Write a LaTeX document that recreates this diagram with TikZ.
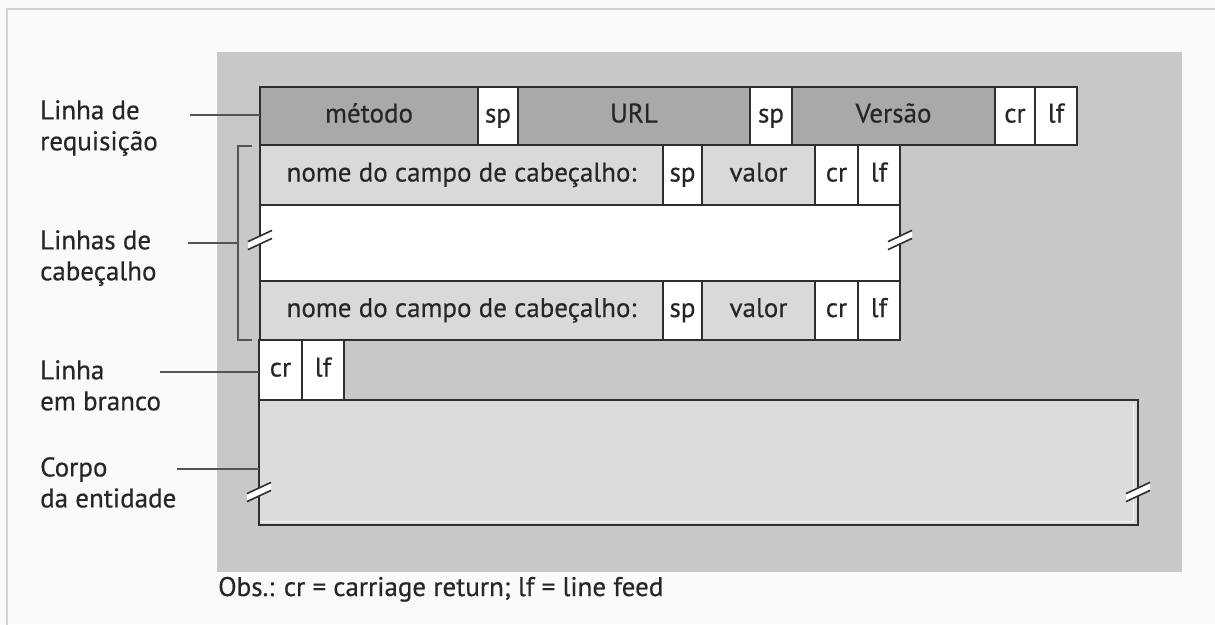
\documentclass[tikz,border=0pt]{standalone}
\usepackage{fontspec}
\setmainfont{PT Sans}[FakeBold=0.4]
\usetikzlibrary{calc}

\definecolor{pagebg}{HTML}{FAFAFA}
\definecolor{framecol}{HTML}{D2D2D2}
\definecolor{panel}{HTML}{C8C8CA}
\definecolor{fielddark}{HTML}{A9A9AB}
\definecolor{fieldlight}{HTML}{D9D9DB}
\definecolor{bodyfill}{HTML}{DCDCDE}
\definecolor{edge}{HTML}{2E2E2E}
\definecolor{ink}{HTML}{262626}
\definecolor{leadcol}{HTML}{555555}

% break symbol: two slanted strokes cutting a vertical edge
\newcommand{\brkmark}[2]{%
  \begin{scope}[shift={(#1,#2)}]
    \fill[white] (-12,1.6) -- (12,-9.6) -- (12,-1.6) -- (-12,9.6) -- cycle;
    \draw[brkline] (-12,1.6) -- (12,-9.6);
    \draw[brkline] (-12,9.6) -- (12,-1.6);
  \end{scope}}

\begin{document}
\begin{tikzpicture}[x=1pt,y=-1pt,
  every node/.style={font=\fontsize{27}{31}\selectfont, text=ink},
  cell/.style={anchor=north west, inner sep=0pt, outer sep=0pt,
               text height=19pt, text depth=6pt},
  darkcell/.style={cell, fill=fielddark},
  lightcell/.style={cell, fill=fieldlight},
  whitecell/.style={cell, fill=white},
  edgeline/.style={draw=edge, line width=1.7pt},
  leaderline/.style={draw=leadcol, line width=1.5pt},
  bracketline/.style={draw=leadcol, line width=1.8pt},
  brkline/.style={draw=edge, line width=1.6pt},
  lbl/.style={anchor=north west, inner sep=0pt, align=left}
]
\clip (0,0) rectangle (1215,624);
\fill[pagebg] (0,0) rectangle (1215,624);
\draw[framecol, line width=1.3pt] (7,640) -- (7,9) -- (1230,9);

% grey panel
\fill[panel] (217,52) rectangle (1182,572);

% request line
\node[darkcell, minimum width=218pt, minimum height=58pt] (metodo) at (260,87) {método};
\node[whitecell, minimum width=40pt,  minimum height=58pt] (sp1) at (478,87) {sp};
\node[darkcell, minimum width=232pt, minimum height=58pt] (url) at (518,87) {URL};
\node[whitecell, minimum width=42pt,  minimum height=58pt] (sp2) at (750,87) {sp};
\node[darkcell, minimum width=203pt, minimum height=58pt] (versao) at (792,87) {Versão};
\node[whitecell, minimum width=40pt,  minimum height=58pt] (cr1) at (995,87) {cr};
\node[whitecell, minimum width=42pt,  minimum height=58pt] (lf1) at (1035,87) {lf};

% first header line
\node[lightcell, minimum width=403pt, minimum height=60pt] (nomeA) at (260,145) {nome do campo de cabeçalho:};
\node[whitecell, minimum width=39pt,  minimum height=60pt] (spA) at (663,145) {sp};
\node[lightcell, minimum width=113pt, minimum height=60pt] (valorA) at (702,145) {valor};
\node[whitecell, minimum width=43pt,  minimum height=60pt] (crA) at (815,145) {cr};
\node[whitecell, minimum width=42pt,  minimum height=60pt] (lfA) at (858,145) {lf};

% elided header lines
\node[whitecell, minimum width=640pt, minimum height=76pt] (gap) at (260,205) {};

% last header line
\node[lightcell, minimum width=403pt, minimum height=59pt] (nomeB) at (260,281) {nome do campo de cabeçalho:};
\node[whitecell, minimum width=39pt,  minimum height=59pt] (spB) at (663,281) {sp};
\node[lightcell, minimum width=113pt, minimum height=59pt] (valorB) at (702,281) {valor};
\node[whitecell, minimum width=43pt,  minimum height=59pt] (crB) at (815,281) {cr};
\node[whitecell, minimum width=42pt,  minimum height=59pt] (lfB) at (858,281) {lf};

% blank line
\node[whitecell, minimum width=43pt, minimum height=60pt] (crC) at (259,340) {cr};
\node[whitecell, minimum width=42pt, minimum height=60pt] (lfC) at (302,340) {lf};

% entity body
\node[cell, fill=bodyfill, minimum width=879pt, minimum height=125pt] (body) at (259,400) {};
\draw[white!75!bodyfill, line width=1pt] (body.north east) ++(-5,4) -- ++(0,117) -- (body.south west |- 0,521);

% outlines on top of all fills
\foreach \n in {metodo,sp1,url,sp2,versao,cr1,lf1,
                nomeA,spA,valorA,crA,lfA,gap,
                nomeB,spB,valorB,crB,lfB,crC,lfC,body}
  \draw[edgeline] (\n.north west) rectangle (\n.south east);

% break symbols
\brkmark{260}{240}
\brkmark{900}{240}
\brkmark{259}{492}
\brkmark{1138}{492}

% bracket around the header lines
\coordinate (brtop) at (252,146);
\coordinate (brbot) at (252,340);
\coordinate (brmid) at (238,243);
\draw[bracketline] (brtop) -- (238,146) -- (238,340) -- (brbot);

% labels on the left
\node[lbl] (lblreq) at (40,100) {Linha de\\requisição};
\node[lbl] (lblhdr) at (40,230) {Linhas de\\cabeçalho};
\node[lbl] (lblblank) at (40,360) {Linha\\em branco};
\node[lbl] (lblbody) at (40,457) {Corpo\\da entidade};

\coordinate (lreq) at (190,115);
\coordinate (lhdr) at (188,243);
\coordinate (lblank) at (160,372);
\coordinate (lbody) at (177,469);
\draw[leaderline] (lreq) -- (lreq -| metodo.west);
\draw[leaderline] (lhdr) -- (brmid);
\draw[leaderline] (lblank) -- (lblank -| crC.west);
\draw[leaderline] (lbody) -- (lbody -| body.west);

% footnote
\node[anchor=base west, inner sep=0pt] (obs) at (218,596) {Obs.: cr = carriage return; lf = line feed};
\end{tikzpicture}
\end{document}
